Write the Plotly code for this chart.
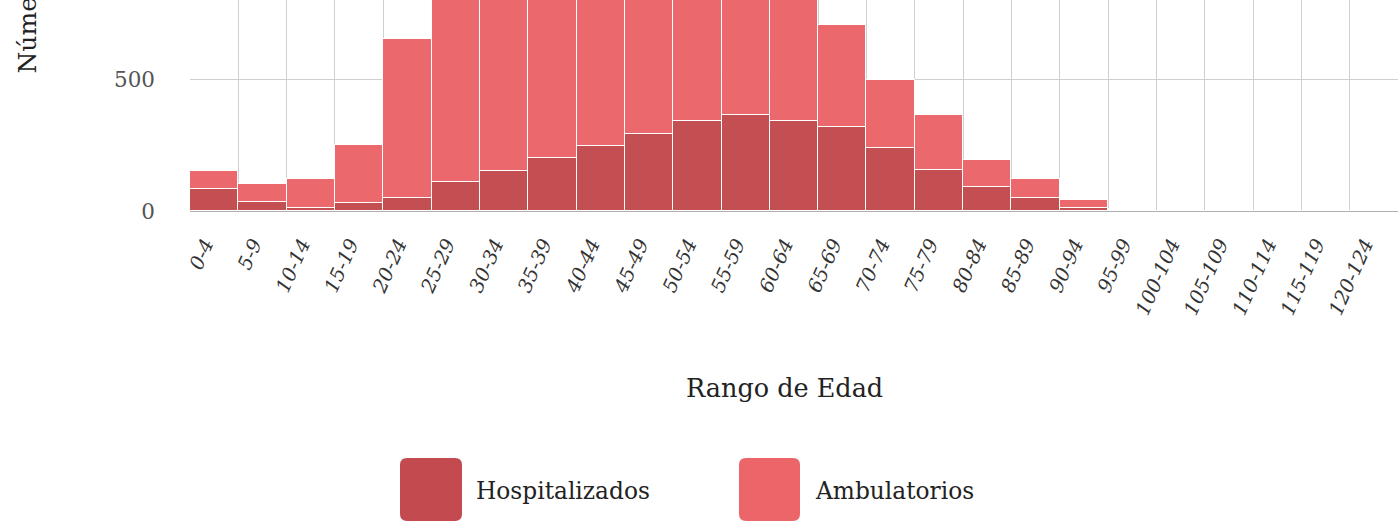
import plotly.graph_objects as go

categories = ["0-4", "5-9", "10-14", "15-19", "20-24", "25-29", "30-34", "35-39",
              "40-44", "45-49", "50-54", "55-59", "60-64", "65-69", "70-74", "75-79",
              "80-84", "85-89", "90-94", "95-99", "100-104", "105-109", "110-114",
              "115-119", "120-124"]
hospitalizados = [82, 34, 10, 32, 51, 110, 152, 203, 247, 294, 342, 365, 342, 319,
                  238, 155, 91, 51, 13, 3, 0, 0, 0, 0, 0]
ambulatorios = [70, 67, 110, 219, 604, 790, 850, 860, 780, 700, 640, 560, 520, 387,
                262, 210, 102, 69, 29, 5, 0, 0, 0, 0, 0]
y_ticks = [0, 500, 1000, 1500]

W, H = 1398, 528
ML, MR, MT, MB = 190, 0, 0, 317
PW, PH = W - ML - MR, H - MT - MB
FONT = "DejaVu Serif"


def px(x):
    return (x - ML) / PW


def py(y):
    return (H - MB - y) / PH


def rounded_rect(x0, y0, x1, y1, r):
    # pixel coords -> paper path
    pts = []
    pts.append(f"M{px(x0 + r)},{py(y0)}")
    pts.append(f"L{px(x1 - r)},{py(y0)}")
    pts.append(f"Q{px(x1)},{py(y0)} {px(x1)},{py(y0 + r)}")
    pts.append(f"L{px(x1)},{py(y1 - r)}")
    pts.append(f"Q{px(x1)},{py(y1)} {px(x1 - r)},{py(y1)}")
    pts.append(f"L{px(x0 + r)},{py(y1)}")
    pts.append(f"Q{px(x0)},{py(y1)} {px(x0)},{py(y1 - r)}")
    pts.append(f"L{px(x0)},{py(y0 + r)}")
    pts.append(f"Q{px(x0)},{py(y0)} {px(x0 + r)},{py(y0)}")
    return " ".join(pts) + " Z"


DARK = "#c34a4e"
LIGHT = "#eb6569"

fig = go.Figure()
fig.add_trace(go.Bar(x=categories, y=hospitalizados, name="Hospitalizados",
                     marker=dict(color=DARK, line=dict(color="white", width=1.2)),
                     opacity=0.97, showlegend=False))
fig.add_trace(go.Bar(x=categories, y=ambulatorios, name="Ambulatorios",
                     marker=dict(color=LIGHT, line=dict(color="white", width=1.2)),
                     opacity=0.97, showlegend=False))

shapes = [
    dict(type="path", xref="paper", yref="paper", path=rounded_rect(400, 458, 462, 521, 7),
         fillcolor=DARK, line=dict(width=0)),
    dict(type="path", xref="paper", yref="paper", path=rounded_rect(739, 458, 800, 521, 7),
         fillcolor=LIGHT, line=dict(width=0)),
]

annotations = [
    dict(text="Rango de Edad", xref="paper", yref="paper", x=px(784), y=py(388),
         showarrow=False, xanchor="center", yanchor="middle",
         font=dict(family=FONT, size=25.5, color="#222")),
    dict(text="Número de Casos", xref="paper", yref="paper", x=px(27), y=py(76),
         showarrow=False, xanchor="center", yanchor="bottom", textangle=-90,
         font=dict(family=FONT, size=25, color="#222")),
    dict(text="Hospitalizados", xref="paper", yref="paper", x=px(474), y=py(490),
         showarrow=False, xanchor="left", yanchor="middle",
         font=dict(family=FONT, size=23.3, color="#222")),
    dict(text="Ambulatorios", xref="paper", yref="paper", x=px(813), y=py(490),
         showarrow=False, xanchor="left", yanchor="middle",
         font=dict(family=FONT, size=23.3, color="#222")),
]

fig.update_layout(
    width=W, height=H,
    margin=dict(l=ML, r=MR, t=MT, b=MB, pad=0),
    barmode="stack", bargap=0,
    plot_bgcolor="white", paper_bgcolor="white",
    shapes=shapes, annotations=annotations,
    font=dict(family=FONT, color="#555"),
)
fig.update_xaxes(
    type="category", tickson="boundaries", showgrid=True, gridcolor="#cfcfcf",
    gridwidth=1, ticks="", tickangle=-66, ticklabelstandoff=13, ticklabelshift=-9,
    tickfont=dict(family=FONT, size=19.5, color="#333", style="italic"),
    showline=True, linecolor="#b0b0b0", linewidth=1, automargin=False,
)
fig.update_yaxes(
    range=[0, 500 * PH / 131.5], tickvals=y_ticks, showgrid=True, gridcolor="#cfcfcf",
    gridwidth=1, zeroline=False, ticks="", ticklabelstandoff=34,
    tickfont=dict(family=FONT, size=21.5, color="#555"), automargin=False,
)

fig.write_html("out.html", config={"displayModeBar": False},
               post_script="document.body.style.margin='0';")
